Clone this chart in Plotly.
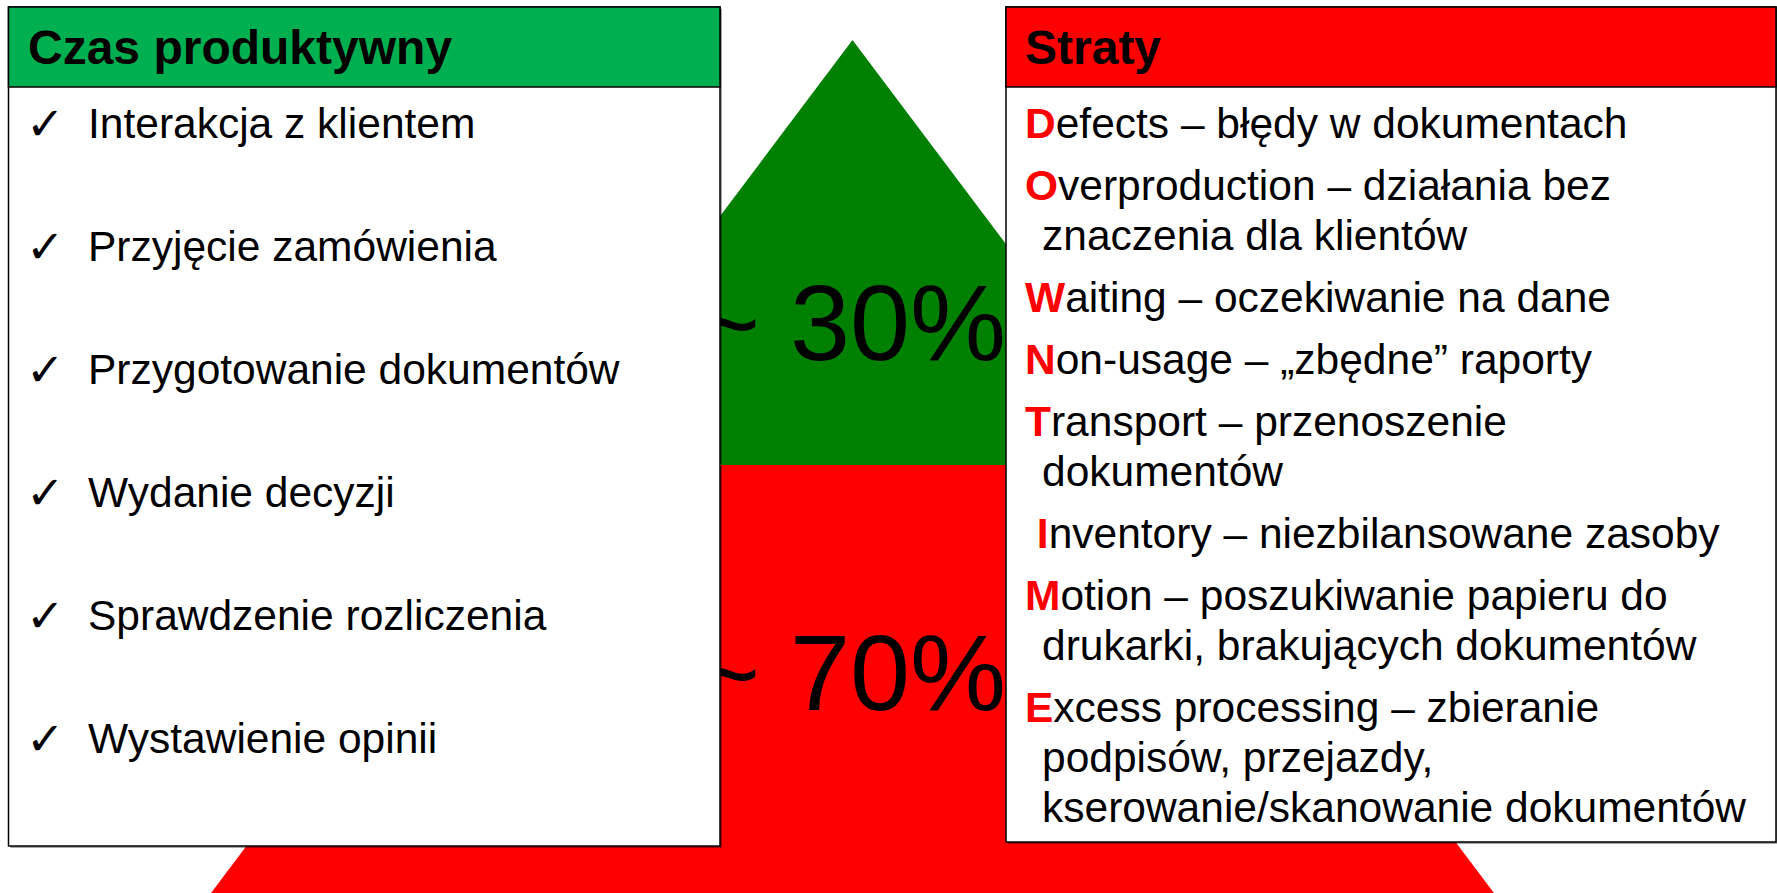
import plotly.graph_objects as go

# ---------------- data ----------------
share_labels = ["productive", "waste"]
share_values = [30, 70]

productive_title = "Czas produktywny"
productive_items = [
    "Interakcja z klientem",
    "Przyjęcie zamówienia",
    "Przygotowanie dokumentów",
    "Wydanie decyzji",
    "Sprawdzenie rozliczenia",
    "Wystawienie opinii",
]

waste_title = "Straty"
waste_items = [
    ["Defects – błędy w dokumentach"],
    ["Overproduction – działania bez", "znaczenia dla klientów"],
    ["Waiting – oczekiwanie na dane"],
    ["Non-usage – „zbędne” raporty"],
    ["Transport – przenoszenie", "dokumentów"],
    ["\u00a0Inventory – niezbilansowane zasoby"],
    ["Motion – poszukiwanie papieru do", "drukarki, brakujących dokumentów"],
    ["Excess processing – zbieranie", "podpisów, przejazdy,", "kserowanie/skanowanie dokumentów"],
]

# ---------------- layout constants ----------------
W, H = 1777, 893
FONT = "Liberation Sans, Arial, sans-serif"
HEADER_GREEN = "#00B050"
ARROW_GREEN = "#008000"
RED = "#FF0000"

apex_x, apex_y = 852.5, 40
slope = 0.752
split_y = 465

L_box = dict(x0=8.5, y0=7, x1=720, y1=846)
R_box = dict(x0=1006, y0=7, x1=1776, y1=842)
header_bottom = 87


def edge(y, side):
    return apex_x + side * slope * (y - apex_y)


fig = go.Figure()

# arrow (two coloured parts)
fig.add_trace(go.Scatter(
    x=[apex_x, edge(split_y, 1), edge(split_y, -1), apex_x],
    y=[apex_y, split_y, split_y, apex_y],
    fill="toself", fillcolor=ARROW_GREEN, mode="lines",
    line=dict(width=0, color=ARROW_GREEN), hoverinfo="skip", showlegend=False))
fig.add_trace(go.Scatter(
    x=[edge(split_y, -1), edge(split_y, 1), edge(H + 40, 1), edge(H + 40, -1), edge(split_y, -1)],
    y=[split_y, split_y, H + 40, H + 40, split_y],
    fill="toself", fillcolor=RED, mode="lines",
    line=dict(width=0, color=RED), hoverinfo="skip", showlegend=False))

# percentages (drawn under the boxes)
pct_y = [333, 683]
fig.add_trace(go.Scatter(
    x=[apex_x - 1] * len(share_values), y=pct_y,
    text=[f"~ {v}%" for v in share_values],
    mode="text", textposition="middle center",
    textfont=dict(family=FONT, size=108, color="black"),
    hoverinfo="skip", showlegend=False, cliponaxis=False))

shapes = []
for box, hcol in ((L_box, HEADER_GREEN), (R_box, RED)):
    # shadow
    shapes.append(dict(type="rect", xref="x", yref="y", layer="above",
                       x0=box["x0"] + 2, y0=box["y0"] + 2, x1=box["x1"] + 2, y1=box["y1"] + 2,
                       fillcolor="rgba(0,0,0,0.35)", line=dict(width=0)))
    shapes.append(dict(type="rect", xref="x", yref="y", layer="above",
                       fillcolor="white", line=dict(color="black", width=1.5), **box))
    shapes.append(dict(type="rect", xref="x", yref="y", layer="above",
                       x0=box["x0"], y0=box["y0"], x1=box["x1"], y1=header_bottom,
                       fillcolor=hcol, line=dict(color="black", width=1.5)))

annotations = []


def ann(x, y, text, size=42.5, family=FONT):
    annotations.append(dict(x=x, y=y, xref="x", yref="y", text=text, showarrow=False,
                            xanchor="left", yanchor="middle", align="left",
                            font=dict(family=family, size=size, color="black")))


# headers
ann(26, 47.5, f"<b>{productive_title}</b>", size=48)
ann(1023, 47.5, f"<b>{waste_title}</b>", size=48)

# productive list
for i, item in enumerate(productive_items):
    y = 123 + i * 123
    ann(24, y + 1, "✓", size=46, family="DejaVu Sans")
    ann(86, y, item)

# waste list
y = 123.5
for lines in waste_items:
    for j, line in enumerate(lines):
        if j == 0:
            k = 1 if line[0] == "\u00a0" else 0
            text = line[:k] + f"<span style='color:{RED}'><b>{line[k]}</b></span>" + line[k + 1:]
            ann(1023, y, text)
        else:
            ann(1040, y, line)
        y += 50
    y += 12

fig.update_layout(
    width=W, height=H, margin=dict(l=0, r=0, t=0, b=0),
    paper_bgcolor="white", plot_bgcolor="white",
    xaxis=dict(range=[0, W], visible=False, fixedrange=True),
    yaxis=dict(range=[H, 0], visible=False, fixedrange=True),
    shapes=shapes, annotations=annotations, showlegend=False,
)

fig.write_html("out.html", config={"displayModeBar": False},
               post_script="document.body.style.margin='0';document.body.style.overflow='hidden';")
